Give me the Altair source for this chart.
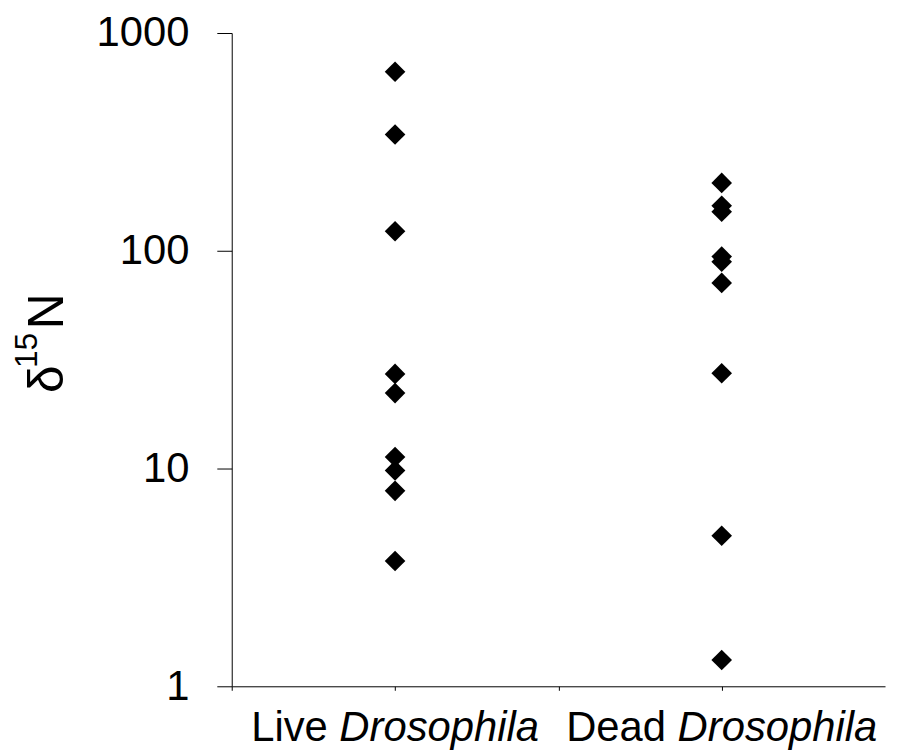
import altair as alt
import pandas as pd

# Data
live_values = [664, 342, 123, 27.2, 22.2, 11.3, 9.8, 7.9, 3.76]
dead_values = [205, 161, 151, 94, 89, 71.2, 27.4, 4.91, 1.32]
groups = ["Live", "Dead"]
group_pos = {"Live": 0.5, "Dead": 1.5}
y_ticks = [1, 10, 100, 1000]
x_ticks = [0, 0.5, 1, 1.5]
title_parts = ["δ", "15", "N"]
label_plain = ["Live", "Dead"]
label_italic = ["Drosophila", "Drosophila"]

rows = [{"group": "Live", "value": v} for v in live_values] + \
       [{"group": "Dead", "value": v} for v in dead_values]
df = pd.DataFrame(rows)
df["pos"] = df["group"].map(group_pos)

FONT = "Liberation Sans"
W, H = 657, 657

xscale = alt.Scale(domain=[0, 2], nice=False, zero=False)
yscale = alt.Scale(type="log", domain=[1, 1000], nice=False)

points = alt.Chart(df).mark_point(
    shape="diamond", filled=True, color="black", size=430, opacity=1
).encode(
    x=alt.X("pos:Q", scale=xscale,
            axis=alt.Axis(values=x_ticks, labels=False, title=None, grid=False,
                          tickSize=4, tickColor="black", domainColor="black",
                          domainWidth=1, tickWidth=1)),
    y=alt.Y("value:Q", scale=yscale,
            axis=alt.Axis(values=y_ticks, format="d", title=None, grid=False,
                          tickSize=15, tickColor="black", domainColor="black",
                          domainWidth=1, tickWidth=1, labelFont=FONT,
                          labelFontSize=42, labelColor="black", labelPadding=28,
                          labelBaseline="middle")),
)

layers = [points]

# category labels: plain word + italic word
def text_width(s, size):
    w = {"L": .556, "i": .222, "v": .5, "e": .556, " ": .278, "D": .722, "r": .333,
         "o": .556, "s": .5, "p": .556, "h": .556, "l": .222, "a": .556, "d": .556}
    return sum(w.get(c, .556) for c in s) * size

LS = 42
for i, g in enumerate(groups):
    plain, ital = label_plain[i], label_italic[i]
    total = text_width(plain + " " + ital, LS)
    split = -total / 2 + text_width(plain + " ", LS)
    lab_df = pd.DataFrame({"pos": [group_pos[g]], "plain": [plain], "ital": [ital]})
    layers.append(alt.Chart(lab_df).mark_text(
        font=FONT, fontSize=LS, align="right", baseline="alphabetic", color="black",
        dx=split - text_width(" ", LS)
    ).encode(x=alt.X("pos:Q", scale=xscale), y=alt.value(712), text="plain:N"))
    layers.append(alt.Chart(lab_df).mark_text(
        font=FONT, fontSize=LS, fontStyle="italic", align="left", baseline="alphabetic",
        color="black", dx=split
    ).encode(x=alt.X("pos:Q", scale=xscale), y=alt.value(712), text="ital:N"))

# y title: δ 15(superscript) N, rotated
title_specs = [(title_parts[0], 50, -170, 362),
               (title_parts[1], 32, -196, 337),
               (title_parts[2], 50, -170, 298)]
for txt, fs, px, py in title_specs:
    tdf = pd.DataFrame({"t": [txt]})
    layers.append(alt.Chart(tdf).mark_text(
        font=FONT, fontSize=fs, angle=270, align="left", baseline="alphabetic",
        color="black"
    ).encode(x=alt.value(px), y=alt.value(py), text="t:N"))

chart = alt.layer(*layers).properties(
    width=W, height=H,
    autosize=alt.AutoSizeParams(type="none"),
    padding={"left": 225, "top": 23, "right": 4, "bottom": 76},
    background="white",
).configure_view(stroke=None)

chart.save("out.html", embed_options={"renderer": "svg", "actions": False})
